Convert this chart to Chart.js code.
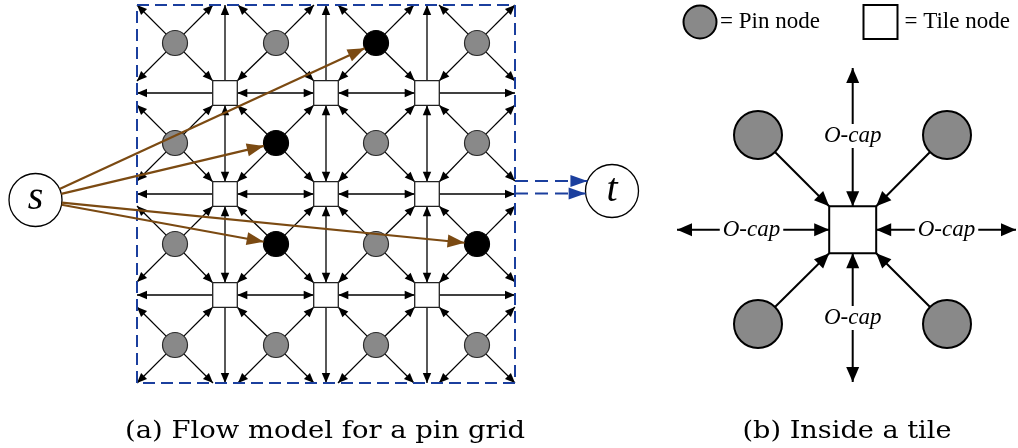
<!DOCTYPE html>
<html>
<head>
<meta charset="utf-8">
<script src="https://cdn.jsdelivr.net/npm/chart.js@4/dist/chart.umd.min.js"></script>
<style>
  html, body { margin: 0; padding: 0; background: #fff; }
  canvas { display: block; }
</style>
</head>
<body>
<canvas id="flowChart" width="1018" height="448"></canvas>
<script>
// (a) pin grid: tile nodes, pin nodes, the pins fed from s, grid border
const tileXs = [225, 326, 427];
const tileYs = [93, 194, 295];
const pinXs = [175, 276, 376, 477];
const pinYs = [43, 143, 244, 345];
const blackPins = [[2, 0], [1, 1], [1, 2], [3, 2]];   // [col, row]
const gridBox = [137, 5, 515, 383];                    // left, top, right, bottom
const sourceNode = [35.5, 200];
const sinkNode = [612, 191];
const sinkExitYs = [181, 193.5];

// (b) inside a tile
const tileCenter = [852.7, 229.7];
const tilePinXs = [758, 947];
const tilePinYs = [135, 324];
const ocapTips = [68, 382, 677, 1016];                 // top, bottom, left, right
const ocapLabels = [[852.7, 136], [852.7, 318], [751.5, 230], [946.5, 230]];
const legendPin = [700, 22];
const legendTile = [880.5, 22];

const captions = ['(a) Flow model for a pin grid', '(b) Inside a tile'];
const captionXs = [325, 847];
const captionWidths = [400, 209];

const PIN_R = 12.5;
const TILE_H = 12.3;
const BIG_PIN_R = 24;
const BIG_TILE_H = 23.5;
const NODE_R = 26.5;

const BROWN = '#7B4A12';
const BLUE = '#1B3F9E';
const GRAY = '#898989';

const isBlack = (c, r) => blackPins.some(p => p[0] === c && p[1] === r);

// ---- build arrows -------------------------------------------------------
const gridArrows = [];
pinXs.forEach((px, c) => {
    pinYs.forEach((py, r) => {
        [[-1, -1], [1, -1], [-1, 1], [1, 1]].forEach(([dx, dy]) => {
            const tx = tileXs.find(x => Math.abs(x - (px + dx * 50.5)) < 6);
            const ty = tileYs.find(y => Math.abs(y - (py + dy * 50.5)) < 6);
            const from = { x: px + dx * PIN_R * Math.SQRT1_2, y: py + dy * PIN_R * Math.SQRT1_2 };
            let to;
            if (tx !== undefined && ty !== undefined) {
                to = { x: tx - dx * TILE_H, y: ty - dy * TILE_H };
            } else {
                // no tile there: run out to the grid border
                const bx = dx < 0 ? gridBox[0] : gridBox[2];
                const by = dy < 0 ? gridBox[1] : gridBox[3];
                const t = Math.min(Math.abs(bx - px), Math.abs(by - py));
                to = { x: px + dx * t, y: py + dy * t };
            }
            gridArrows.push({ from, to, head: 'end' });
        });
    });
});

tileXs.forEach((tx, c) => {
    tileYs.forEach((ty, r) => {
        if (c < tileXs.length - 1) {
            gridArrows.push({ from: { x: tx + TILE_H, y: ty }, to: { x: tileXs[c + 1] - TILE_H, y: ty }, head: 'both' });
        }
        if (r < tileYs.length - 1) {
            gridArrows.push({ from: { x: tx, y: ty + TILE_H }, to: { x: tx, y: tileYs[r + 1] - TILE_H }, head: 'both' });
        }
        if (c === 0) gridArrows.push({ from: { x: tx - TILE_H, y: ty }, to: { x: gridBox[0], y: ty }, head: 'end' });
        if (c === tileXs.length - 1) gridArrows.push({ from: { x: tx + TILE_H, y: ty }, to: { x: gridBox[2], y: ty }, head: 'end' });
        if (r === 0) gridArrows.push({ from: { x: tx, y: ty - TILE_H }, to: { x: tx, y: gridBox[1] }, head: 'end' });
        if (r === tileYs.length - 1) gridArrows.push({ from: { x: tx, y: ty + TILE_H }, to: { x: tx, y: gridBox[3] }, head: 'end' });
    });
});

// s -> black pins
const sourceArrows = blackPins.map(([c, r]) => {
    const px = pinXs[c], py = pinYs[r];
    const dx = px - sourceNode[0], dy = py - sourceNode[1];
    const d = Math.hypot(dx, dy);
    return {
        from: { x: sourceNode[0] + dx / d * NODE_R, y: sourceNode[1] + dy / d * NODE_R },
        to: { x: px - dx / d * PIN_R, y: py - dy / d * PIN_R },
        head: 'end'
    };
});

// border -> t
const sinkArrows = sinkExitYs.map(y => {
    const off = y - sinkNode[1];
    return { from: { x: gridBox[2], y }, to: { x: sinkNode[0] - Math.sqrt(NODE_R * NODE_R - off * off), y }, head: 'end' };
});

// inside a tile
const [cx, cy] = tileCenter;
const tileArrows = [];
tilePinXs.forEach(px => {
    tilePinYs.forEach(py => {
        const dx = Math.sign(cx - px), dy = Math.sign(cy - py);
        tileArrows.push({
            from: { x: px + dx * BIG_PIN_R * Math.SQRT1_2, y: py + dy * BIG_PIN_R * Math.SQRT1_2 },
            to: { x: cx - dx * BIG_TILE_H, y: cy - dy * BIG_TILE_H },
            head: 'end'
        });
    });
});
tileArrows.push({ from: { x: cx, y: ocapTips[0] }, to: { x: cx, y: cy - BIG_TILE_H }, head: 'both' });
tileArrows.push({ from: { x: cx, y: cy + BIG_TILE_H }, to: { x: cx, y: ocapTips[1] }, head: 'both' });
tileArrows.push({ from: { x: ocapTips[2], y: cy }, to: { x: cx - BIG_TILE_H, y: cy }, head: 'both' });
tileArrows.push({ from: { x: cx + BIG_TILE_H, y: cy }, to: { x: ocapTips[3], y: cy }, head: 'both' });

function arrowSet(a, style) {
    return Object.assign({
        data: [a.from, a.to],
        showLine: true,
        fill: false,
        pointRadius: 0,
        clip: false,
        head: a.head
    }, style);
}

const gridStyle = { borderColor: '#000', borderWidth: 1.3, headLen: 10, headHalf: 4.2, order: 10 };
const tileStyle = { borderColor: '#000', borderWidth: 2, headLen: 15, headHalf: 6.5, order: 10 };
const brownStyle = { borderColor: BROWN, borderWidth: 2.2, headLen: 17, headHalf: 6.5, order: 6 };
const blueStyle = { borderColor: BLUE, borderWidth: 2.2, borderDash: [13, 7], headLen: 17, headHalf: 6, order: 6 };

function nodeSet(points, style) {
    return Object.assign({ data: points, showLine: false, clip: false, order: 8 }, style);
}

const grayPins = [], darkPins = [];
pinXs.forEach((x, c) => pinYs.forEach((y, r) => (isBlack(c, r) ? darkPins : grayPins).push({ x, y })));
const tiles = [];
tileXs.forEach(x => tileYs.forEach(y => tiles.push({ x, y })));
const bigPins = [];
tilePinXs.forEach(x => tilePinYs.forEach(y => bigPins.push({ x, y })));

const datasets = [
    ...gridArrows.map(a => arrowSet(a, gridStyle)),
    ...tileArrows.map(a => arrowSet(a, tileStyle)),
    {
        data: [
            { x: gridBox[0], y: gridBox[1] }, { x: gridBox[2], y: gridBox[1] },
            { x: gridBox[2], y: gridBox[3] }, { x: gridBox[0], y: gridBox[3] },
            { x: gridBox[0], y: gridBox[1] }
        ],
        showLine: true, fill: false, pointRadius: 0, clip: false,
        borderColor: BLUE, borderWidth: 2, borderDash: [12, 6], order: 9
    },
    nodeSet(grayPins, { pointStyle: 'circle', pointRadius: PIN_R, backgroundColor: GRAY, borderColor: '#2a2a2a', borderWidth: 1.2 }),
    nodeSet(darkPins, { pointStyle: 'circle', pointRadius: PIN_R, backgroundColor: '#000', borderColor: '#000', borderWidth: 1.2 }),
    nodeSet(tiles, { pointStyle: 'rect', pointRadius: TILE_H / Math.SQRT1_2, backgroundColor: '#fff', borderColor: '#222', borderWidth: 1.3 }),
    nodeSet([{ x: sourceNode[0], y: sourceNode[1] }, { x: sinkNode[0], y: sinkNode[1] }],
        { pointStyle: 'circle', pointRadius: NODE_R, backgroundColor: '#fff', borderColor: '#000', borderWidth: 1.3 }),
    nodeSet(bigPins, { pointStyle: 'circle', pointRadius: BIG_PIN_R, backgroundColor: GRAY, borderColor: '#000', borderWidth: 2 }),
    nodeSet([{ x: cx, y: cy }], { pointStyle: 'rect', pointRadius: BIG_TILE_H / Math.SQRT1_2, backgroundColor: '#fff', borderColor: '#000', borderWidth: 2 }),
    nodeSet([{ x: legendPin[0], y: legendPin[1] }], { pointStyle: 'circle', pointRadius: 16.5, backgroundColor: GRAY, borderColor: '#000', borderWidth: 2 }),
    nodeSet([{ x: legendTile[0], y: legendTile[1] }], { pointStyle: 'rect', pointRadius: 17 / Math.SQRT1_2, backgroundColor: '#fff', borderColor: '#000', borderWidth: 2 }),
    ...sourceArrows.map(a => arrowSet(a, brownStyle)),
    ...sinkArrows.map(a => arrowSet(a, blueStyle)),
];

// ---- plugins ------------------------------------------------------------
function drawHead(ctx, from, to, ds) {
    const ang = Math.atan2(to.y - from.y, to.x - from.x);
    const len = ds.headLen, half = ds.headHalf;
    ctx.save();
    ctx.translate(to.x, to.y);
    ctx.rotate(ang);
    ctx.beginPath();
    ctx.moveTo(0, 0);
    ctx.lineTo(-len, half);
    ctx.lineTo(-len, -half);
    ctx.closePath();
    ctx.fillStyle = ds.borderColor;
    ctx.fill();
    ctx.restore();
}

const arrowHeads = {
    id: 'arrowHeads',
    afterDatasetDraw(chart, args) {
        const ds = chart.data.datasets[args.index];
        if (!ds.head) return;
        const pts = args.meta.data;
        const a = pts[0], b = pts[pts.length - 1];
        const ctx = chart.ctx;
        if (ds.head === 'end' || ds.head === 'both') drawHead(ctx, a, b, ds);
        if (ds.head === 'start' || ds.head === 'both') drawHead(ctx, b, a, ds);
    }
};

const labels = {
    id: 'labels',
    afterDraw(chart) {
        const { ctx, scales: { x, y } } = chart;
        const X = v => x.getPixelForValue(v), Y = v => y.getPixelForValue(v);
        ctx.save();
        ctx.fillStyle = '#000';
        ctx.textAlign = 'center';
        ctx.textBaseline = 'middle';

        ctx.font = 'italic 40px "Liberation Serif"';
        ctx.fillText('s', X(sourceNode[0]), Y(sourceNode[1]) - 2);
        ctx.fillText('t', X(sinkNode[0]), Y(sinkNode[1]) - 1);

        ctx.font = 'italic 23px "Liberation Serif"';
        ocapLabels.forEach(([lx, ly]) => {
            const w = ctx.measureText('O-cap').width;
            ctx.fillStyle = '#fff';
            ctx.fillRect(X(lx) - w / 2 - 3, Y(ly) - 12, w + 6, 24);
            ctx.fillStyle = '#000';
            ctx.fillText('O-cap', X(lx), Y(ly));
        });

        ctx.textAlign = 'left';
        ctx.font = '23px "Liberation Serif"';
        ctx.fillText('= Pin node', X(legendPin[0] + 20), Y(legendPin[1]));
        ctx.fillText('= Tile node', X(legendTile[0] + 24), Y(legendTile[1]));

        ctx.textAlign = 'center';
        ctx.textBaseline = 'alphabetic';
        ctx.font = '24px "DejaVu Serif"';
        captions.forEach((txt, i) => {
            const w = ctx.measureText(txt).width;
            ctx.save();
            ctx.translate(X(captionXs[i]), Y(437.5));
            ctx.scale(captionWidths[i] / w, 1);
            ctx.fillText(txt, 0, 0);
            ctx.restore();
        });
        ctx.restore();
    }
};

new Chart(document.getElementById('flowChart').getContext('2d'), {
    type: 'scatter',
    data: { datasets },
    options: {
        responsive: false,
        animation: false,
        events: [],
        layout: { padding: 0, autoPadding: false },
        plugins: { legend: { display: false }, tooltip: { enabled: false } },
        scales: {
            x: { type: 'linear', min: 0, max: 1018, display: false },
            y: { type: 'linear', min: 0, max: 448, reverse: true, display: false }
        }
    },
    plugins: [arrowHeads, labels]
});
</script>
</body>
</html>
